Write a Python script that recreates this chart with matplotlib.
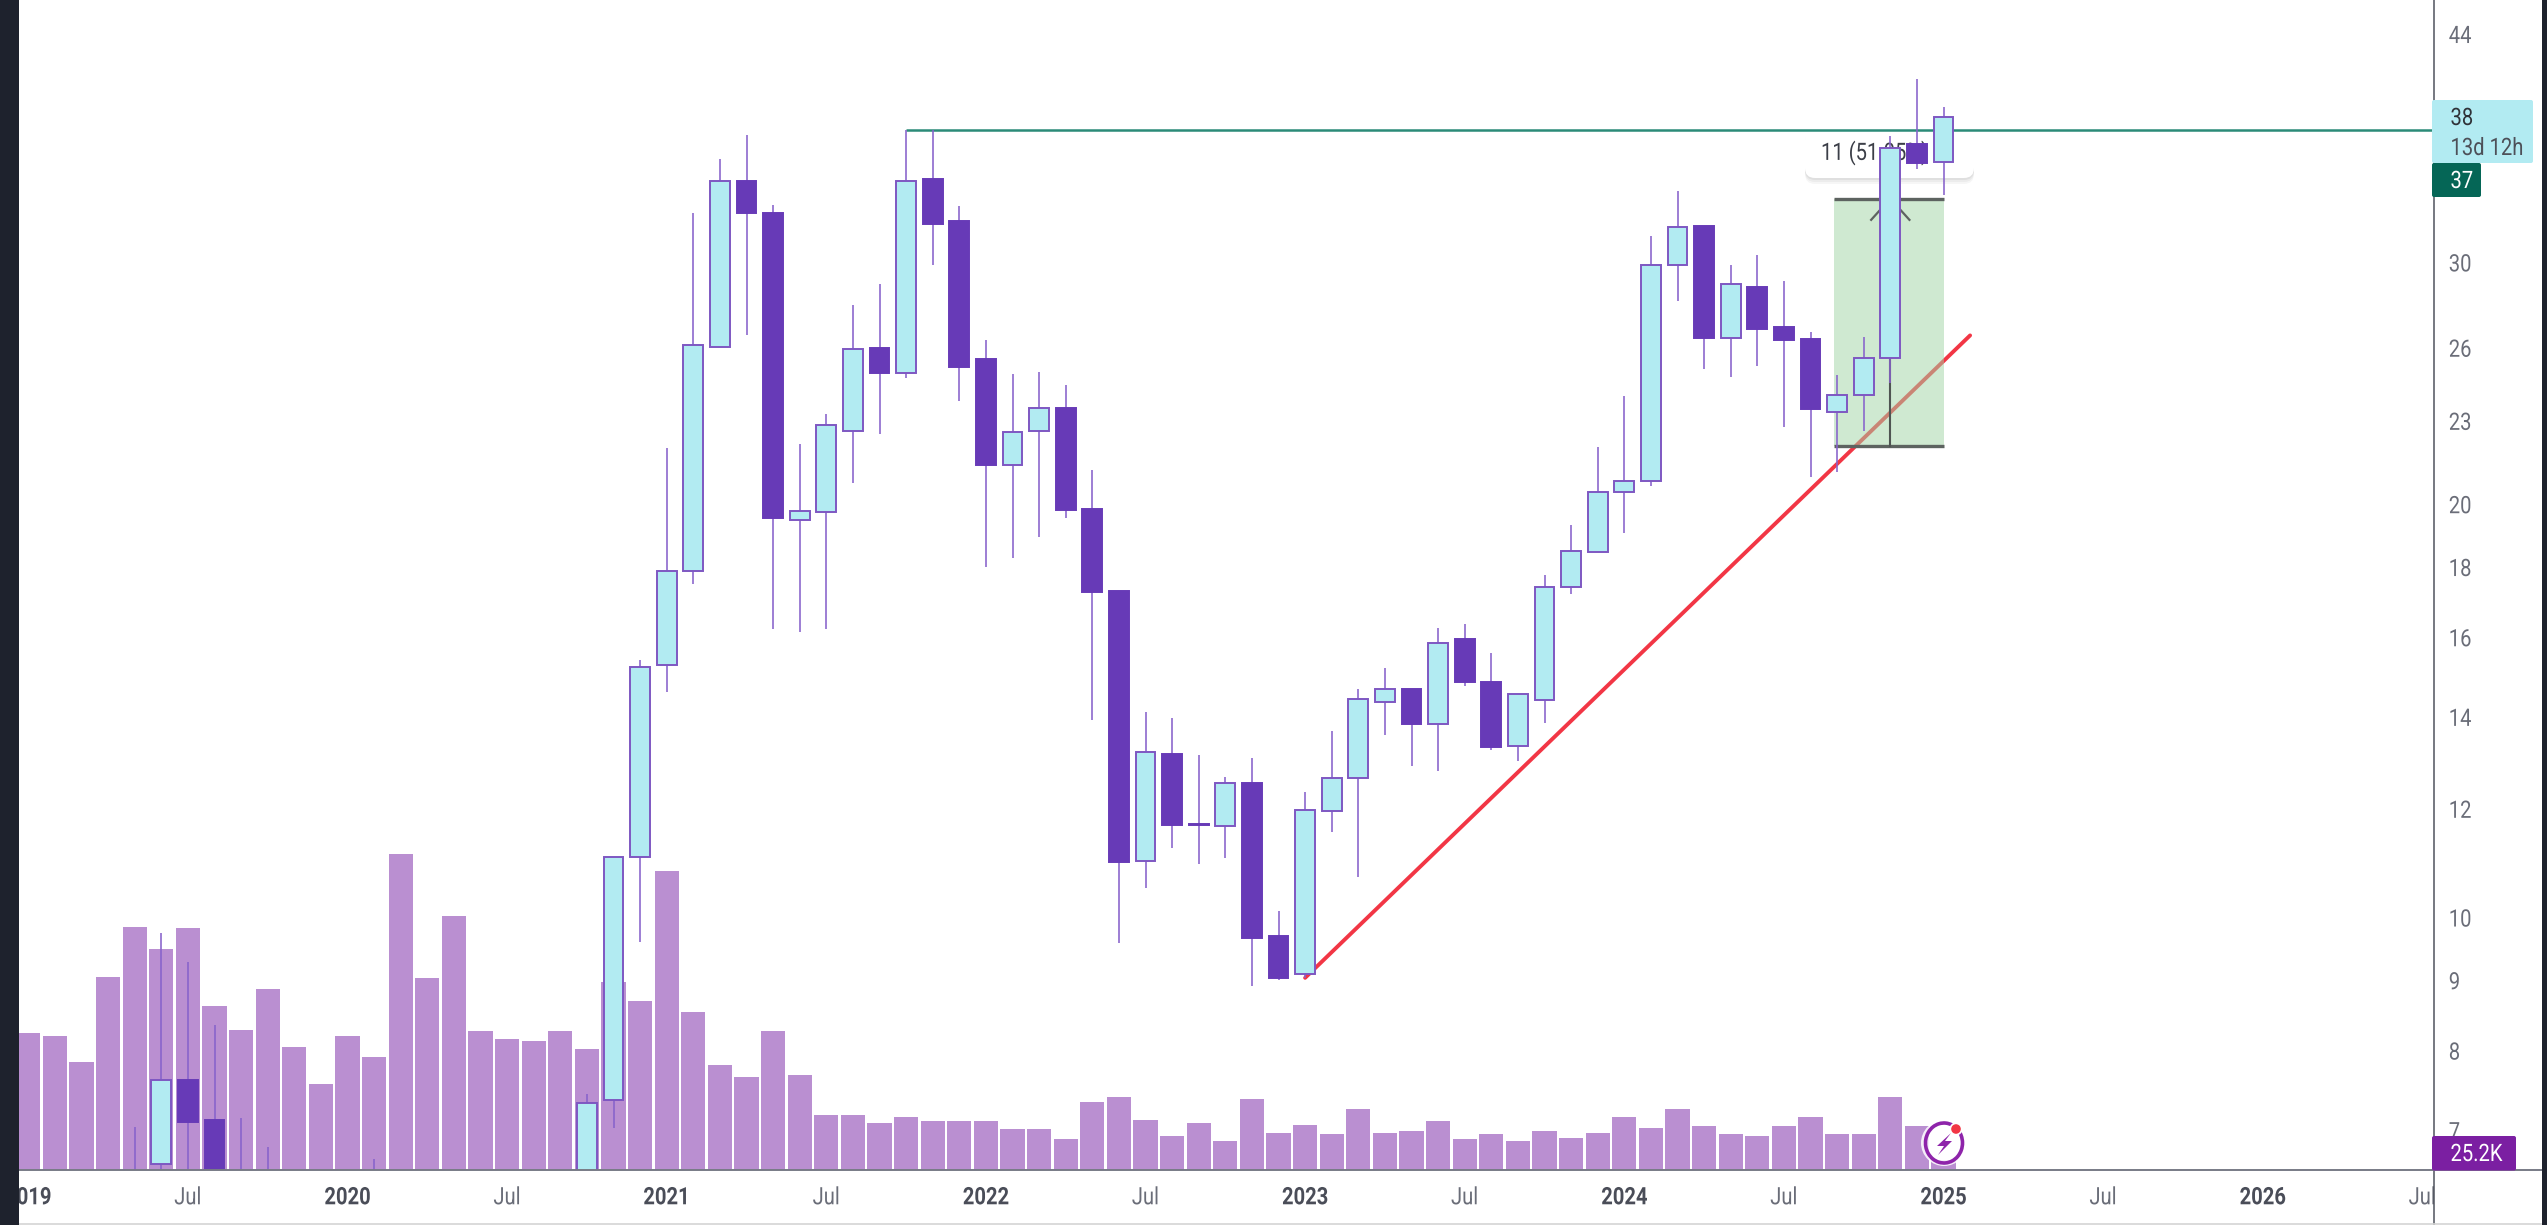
import matplotlib
matplotlib.use("Agg")
import matplotlib.pyplot as plt
from matplotlib.patches import Rectangle, FancyBboxPatch, Circle, Arc, Polygon
from matplotlib.patheffects import AbstractPathEffect
from matplotlib.transforms import Affine2D

# Months are counted from Jan 2019 (0) to Jan 2025 (72)
candle_month = [4,5,6,7,8,9,13,21,22,23,24,25,26,27,28,29,30,31,32,33,34,35,36,37,38,39,40,41,42,43,44,45,46,47,48,49,50,51,52,53,54,55,56,57,58,59,60,61,62,63,64,65,66,67,68,69,70,71,72]
price_open = [6.245,6.634,7.637,7.141,6.512,6.458,6.458,6.458,7.385,11.099,15.30,17.94,26.08,34.47,32.68,19.54,19.80,22.67,26.04,24.98,34.58,32.23,25.56,21.41,22.67,23.58,19.88,17.34,11.031,13.192,11.731,11.679,12.573,9.712,9.117,11.996,12.664,14.38,14.70,13.872,15.99,14.87,13.363,14.45,17.45,18.52,20.46,20.86,29.93,31.97,26.50,28.87,26.98,26.47,23.42,24.06,25.60,36.69,35.58]
price_high = [7.058,9.771,9.308,8.375,7.165,6.825,6.689,7.460,11.099,15.44,22.05,32.68,35.80,37.21,33.13,22.17,23.31,28.02,29.03,37.57,37.57,33.04,26.40,24.96,25.01,24.49,21.24,17.34,14.16,14.00,13.170,12.679,13.096,10.139,12.371,13.718,14.71,15.23,14.70,16.30,16.39,15.61,14.58,17.81,19.37,22.08,24.02,31.44,33.92,31.97,29.96,30.46,29.17,26.75,24.88,26.56,37.18,40.89,39.05]
price_low = [6.141,6.458,6.458,6.245,6.245,6.245,6.245,6.351,7.046,9.625,14.63,17.54,26.08,26.63,16.26,16.18,16.26,20.79,22.54,24.77,29.97,23.84,18.06,18.31,18.97,19.59,13.966,9.609,10.531,11.262,10.964,11.087,8.931,9.031,9.056,11.575,10.739,13.611,12.929,12.828,14.79,13.281,13.031,13.903,17.25,18.52,19.12,20.68,28.20,25.17,24.83,25.30,22.84,21.00,21.18,22.65,24.57,35.16,33.68]
price_close = [6.458,7.637,7.118,6.351,6.351,6.351,6.351,7.348,11.099,15.26,17.94,26.18,34.47,32.68,19.60,19.83,22.88,26.03,24.98,34.47,32.06,25.24,21.41,22.63,23.56,19.86,17.31,11.007,13.229,11.711,11.711,12.573,9.690,9.056,12.003,12.672,14.47,14.70,13.872,15.89,14.88,13.355,14.58,17.46,18.54,20.47,20.86,29.93,31.94,26.50,29.00,26.92,26.41,23.53,24.07,25.61,36.46,35.55,38.39]
volume_k = [344,337,271,487,612,556,609,414,353,455,309,216,337,284,796,483,641,350,329,324,350,304,475,426,754,397,264,235,350,239,139,139,118,134,123,123,123,103,103,77,171,183,126,85,118,73,178,94,114,90,154,94,98,123,77,90,73,98,81,94,134,106,154,110,90,86,110,134,90,90,183,110,25]
price_ticks = [44,30,26,23,20,18,16,14,12,10,9,8,7]
time_ticks = [0,6,12,18,24,30,36,42,48,54,60,66,72,78,84,90]
time_labels = ['2019','Jul','2020','Jul','2021','Jul','2022','Jul','2023','Jul','2024','Jul','2025','Jul','2026','Jul']
resistance = 37.56
trend_month = [48,73]
trend_price = [9.061,26.61]
range_month = [67.9,72.0]
range_price = [22.11,33.47]
range_mid = 70
range_label = '11 (51.05%)'


class Condense(AbstractPathEffect):
    """Narrow a text horizontally, as the reference's squeezed lettering."""
    def __init__(self, sx=0.84, center=False, dy=0):
        super().__init__()
        self.sx, self.center, self.dy = sx, center, dy

    def draw_path(self, renderer, gc, tpath, affine, rgbFace=None):
        cx = 0
        if self.center and len(tpath.vertices):
            e = tpath.get_extents()
            cx = (e.x0 + e.x1) / 2
        t = Affine2D().translate(-cx, 0).scale(self.sx, 1).translate(cx, 0)
        renderer.draw_path(gc, tpath, t + affine + Affine2D().translate(0, self.dy), rgbFace)


plt.rcParams['font.family'] = ['Roboto', 'DejaVu Sans']
W, H = 2547, 1225
UP, DOWN, EDGE, WICK = '#b2ebf2', '#673ab7', '#7e57c2', '#8762cb'
VOL = '#ba8fd1'
GREY = '#6a6d78'
FS = 17.3

fig = plt.figure(figsize=(W/100, H/100), dpi=100, facecolor='white')
rect = [19/W, (H-1170)/H, (2433.5-19)/W, 1170/H]
xlim = ((19-28.3)/26.6, (2433.5-28.3)/26.6)

vol = fig.add_axes(rect, zorder=1, facecolor='white')
vol.bar(range(len(volume_k)), volume_k, width=0.91, color=VOL, linewidth=0)
vol.set_xlim(*xlim)
vol.set_ylim(0, 1170*2.52)
vol.axis('off')

ax = fig.add_axes(rect, zorder=2)
ax.patch.set_visible(False)
ax.set_yscale('log')
ax.set_xlim(*xlim)
ax.set_ylim(6.565, 46.70)
for s in ax.spines.values():
    s.set_visible(False)
ax.yaxis.tick_right()
ax.minorticks_off()
ax.set_yticks(price_ticks)
ax.set_yticklabels([str(t) for t in price_ticks], color=GREY, fontsize=FS)
ax.tick_params(axis='y', which='both', length=0, pad=11)
ax.tick_params(axis='y', which='minor', labelright=False)
for lab in ax.get_yticklabels():
    lab.set_path_effects([Condense(dy=1.5)])
ax.set_xticks(time_ticks)
ax.set_xticklabels(time_labels, fontsize=FS)
ax.tick_params(axis='x', length=0, pad=11)
for lab in ax.get_xticklabels():
    if lab.get_text() == 'Jul':
        lab.set_color(GREY)
    else:
        lab.set_color('#4a4d58')
        lab.set_fontweight('bold')
    lab.set_path_effects([Condense(center=True, dy=-1)])

ov = fig.add_axes([0, 0, 1, 1], zorder=3)
ov.set_xlim(0, W)
ov.set_ylim(H, 0)
ov.axis('off')

# drawings below the candles
ax.plot(trend_month, trend_price, color='#f23645', lw=2.8, zorder=2, solid_capstyle='round')
ax.fill_between(range_month, range_price[0], range_price[1], color='#a1d5a5', alpha=0.5, lw=0, zorder=3)
for p in range_price:
    ax.plot(range_month, [p, p], color='#5d6360', lw=2.4, zorder=4, solid_capstyle='butt')
ax.plot([range_mid, range_mid], range_price, color='#4f5452', lw=1.5, zorder=4)
ax.plot([range_mid-0.72, range_mid, range_mid+0.72], [32.30, range_price[1], 32.30], color='#5d6360', lw=1.6, zorder=4)

for off, a in [(6, 0.035), (4, 0.04), (2, 0.05)]:
    ax.add_patch(FancyBboxPatch((1815, 140+off), 149, 28, boxstyle='round,pad=10,rounding_size=10',
                                transform=ov.transData, fc='black', ec='none', alpha=a, zorder=4.3, clip_on=False))
ax.add_patch(FancyBboxPatch((1815, 140), 149, 28, boxstyle='round,pad=10,rounding_size=10',
                            transform=ov.transData, fc='white', ec='none', zorder=4.4, clip_on=False))
ax.text(1821, 153, range_label, transform=ov.transData, color='#3c3f48', fontsize=FS, va='center', ha='left',
        zorder=4.5, path_effects=[Condense()])

ax.plot([33, xlim[1]], [resistance, resistance], color='#2b8b78', lw=1.8, zorder=4.7, solid_capstyle='butt')

# candles
ax.vlines(candle_month, price_low, price_high, color=WICK, lw=1.15, zorder=5)
for m, o, c in zip(candle_month, price_open, price_close):
    up = c >= o
    lo, hi = min(o, c), max(o, c)
    ax.bar(m, hi-lo, bottom=lo, width=0.74, color=UP if up else DOWN,
           edgecolor=EDGE if up else DOWN, linewidth=1.4, zorder=6)

# chart frame
ov.add_patch(Rectangle((2434, 1172), 107, 51, fc='white', ec='none', zorder=1))
ov.plot([2433.5, 2433.5], [0, H], color='#50535e', lw=1.1, zorder=2)
ov.plot([19, 2541], [1170, 1170], color='#787b86', lw=1.4, zorder=2)
ov.plot([19, 2541], [1224, 1224], color='#d4d4d4', lw=1.2, zorder=2)
ov.add_patch(Rectangle((0, 0), 19, H, fc='#1e222d', ec='none', zorder=9))
ov.add_patch(Rectangle((2541.5, 0), 6, H, fc='#1e222d', ec='none', zorder=9))

# price tags
tag = dict(fontsize=FS, va='center', zorder=4, path_effects=[Condense(dy=-1.5)])
ov.add_patch(FancyBboxPatch((2434, 102), 97, 59, boxstyle='round,pad=2,rounding_size=2', fc=UP, ec='none', zorder=3))
ov.text(2450.5, 117, '38', color='#2f3238', **tag)
ov.text(2450.5, 147, '13d 12h', color='#4d5058', **tag)
ov.add_patch(FancyBboxPatch((2434, 165), 45, 30, boxstyle='round,pad=2,rounding_size=2', fc='#056656', ec='none', zorder=3))
ov.text(2450.5, 180, '37', color='white', **tag)
ov.add_patch(FancyBboxPatch((2434, 1138), 80, 30.5, boxstyle='round,pad=2,rounding_size=2', fc='#7b1fa2', ec='none', zorder=3))
ov.text(2450.5, 1153, '25.2K', color='white', **tag)

# lightning badge
ov.add_patch(Circle((1944, 1143), 23, fc='white', ec='none', alpha=0.85, zorder=5))
ov.add_patch(Arc((1944, 1143), 37, 40, theta1=-45, theta2=295, color='#8e24aa', lw=2.6, zorder=6))
ov.add_patch(Polygon([(1951, 1133), (1937, 1146), (1944, 1146), (1938, 1155), (1952, 1141), (1945, 1141)],
                     fc='#8e24aa', ec='none', zorder=6))
ov.add_patch(Circle((1956, 1129), 6.5, fc='white', ec='none', zorder=6))
ov.add_patch(Circle((1956, 1129), 4.8, fc='#f23645', ec='none', zorder=7))

fig.savefig('out.png', dpi=100)
